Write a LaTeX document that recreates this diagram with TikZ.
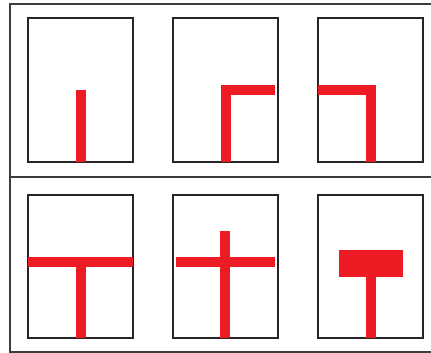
\documentclass[tikz,border=0pt]{standalone}
\usepackage{tikz}

\definecolor{rouge}{RGB}{237,28,36}
\definecolor{cadre}{RGB}{60,60,60}

\tikzset{
  panneau/.style={draw=black!85, line width=1.6pt},
  barre/.style={fill=rouge, draw=none}
}

\begin{document}
\begin{tikzpicture}[x=1pt,y=-1pt]
\useasboundingbox (0,0) rectangle (431,353);

% Cadre
\draw[cadre, line width=2.5pt] (431,4) -- (10,4) -- (10,352) -- (431,352);
\draw[cadre, line width=2.5pt] (10,177) -- (431,177);

% Panneaux
\foreach \x in {28,173,318} {
    \draw[panneau] (\x,18) rectangle ++(105,144);
    \draw[panneau] (\x,195) rectangle ++(105,143);
}

% Rangée du haut
\fill[barre] (76,90) rectangle (86,162);
\fill[barre] (221,85) rectangle (231,162);
\fill[barre] (221,85) rectangle (275,95);
\fill[barre] (318,85) rectangle (376,95);
\fill[barre] (366,85) rectangle (376,162);

% Rangée du bas
\fill[barre] (28,257) rectangle (133,267);
\fill[barre] (76,257) rectangle (86,338);
\fill[barre] (176,257) rectangle (275,267);
\fill[barre] (220,231) rectangle (230,338);
\fill[barre] (339,250) rectangle (403,277);
\fill[barre] (366,250) rectangle (376,338);

\end{tikzpicture}
\end{document}
